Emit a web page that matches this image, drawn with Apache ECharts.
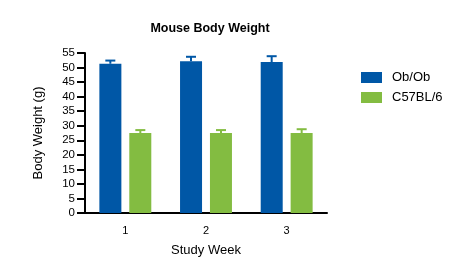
<!DOCTYPE html>
<html>
<head>
<meta charset="utf-8">
<script src="https://cdn.jsdelivr.net/npm/echarts@6/dist/echarts.min.js"></script>
<style>
  html, body { margin: 0; padding: 0; background: #fff; }
  #chart { width: 473px; height: 275px; }
</style>
</head>
<body>
<div id="chart"></div>
<script>
// data
const weeks = ['1', '2', '3'];
const obValues = [51.3, 52.2, 51.9];
const obErr = [1.1, 1.5, 2.0];
const c57Values = [27.5, 27.5, 27.5];
const c57Err = [1.0, 1.0, 1.3];

const BLUE = '#0057a6';
const GREEN = '#83bc41';
const FONT = 'Liberation Sans, Arial, sans-serif';

const chart = echarts.init(document.getElementById('chart'));

// error bar drawn on top of a bar, offset to match the bar position
function errorBar(values, errs, color, offset) {
  return {
    type: 'custom',
    z: 5,
    data: values.map((v, i) => [i, v, v + errs[i]]),
    renderItem: (params, api) => {
      const base = api.coord([api.value(0), api.value(1)]);
      const top = api.coord([api.value(0), api.value(2)]);
      const x = base[0] + offset;
      const style = { stroke: color, lineWidth: 2 };
      return {
        type: 'group',
        children: [
          { type: 'line', shape: { x1: x, y1: base[1], x2: x, y2: top[1] }, style },
          { type: 'line', shape: { x1: x - 5, y1: top[1], x2: x + 5, y2: top[1] }, style },
        ],
      };
    },
  };
}

const axisLine = { lineStyle: { color: '#000', width: 2 } };

chart.setOption({
  animation: false,
  backgroundColor: '#fff',
  textStyle: { fontFamily: FONT },
  title: {
    text: 'Mouse Body Weight',
    left: 205,
    top: 17,
    textAlign: 'center',
    textStyle: { fontSize: 12.5, fontWeight: 'bold', color: '#000', fontFamily: FONT },
  },
  legend: {
    data: ['Ob/Ob', 'C57BL/6'],
    orient: 'vertical',
    left: 356,
    top: 66,
    itemWidth: 21,
    itemHeight: 11,
    itemGap: 7,
    icon: 'rect',
    textStyle: { fontSize: 13, color: '#000', fontFamily: FONT, padding: [0, 0, 0, 5] },
  },
  grid: { left: 85, right: 146, top: 53, bottom: 62 },
  xAxis: {
    type: 'category',
    data: weeks,
    name: 'Study Week',
    nameLocation: 'middle',
    nameGap: 31,
    nameTextStyle: { fontSize: 13, color: '#000' },
    axisLine,
    axisTick: { alignWithLabel: true, length: 9, lineStyle: { width: 2, color: '#000' } },
    axisLabel: { fontSize: 11, color: '#000', margin: 12 },
  },
  yAxis: {
    type: 'value',
    min: 0,
    max: 55,
    interval: 5,
    name: 'Body Weight (g)',
    nameLocation: 'middle',
    nameGap: 40,
    nameTextStyle: { fontSize: 13, color: '#000' },
    axisLine: { show: true, ...axisLine },
    axisTick: { show: true, length: 8, lineStyle: { width: 2, color: '#000' } },
    axisLabel: { fontSize: 11.5, color: '#000', margin: 10 },
    splitLine: { show: false },
  },
  series: [
    {
      name: 'Ob/Ob',
      type: 'bar',
      data: obValues,
      barWidth: 22,
      barGap: '36%',
      itemStyle: { color: BLUE },
    },
    {
      name: 'C57BL/6',
      type: 'bar',
      data: c57Values,
      barWidth: 22,
      itemStyle: { color: GREEN },
    },
    errorBar(obValues, obErr, BLUE, -15),
    errorBar(c57Values, c57Err, GREEN, 15),
  ],
});
</script>
</body>
</html>
